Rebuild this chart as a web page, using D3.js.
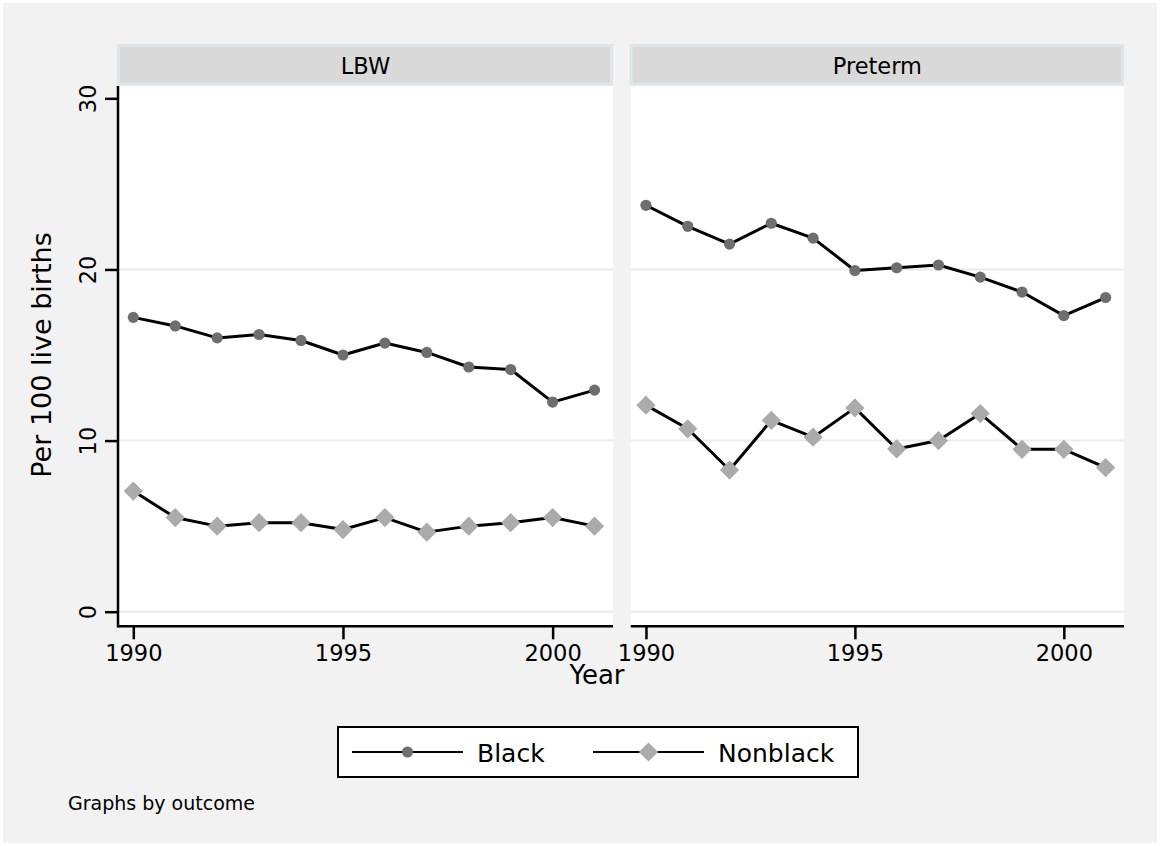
<!DOCTYPE html>
<html>
<head>
<meta charset="utf-8">
<script src="https://cdn.jsdelivr.net/npm/d3@7"></script>
<style>
  body { margin: 0; background: #ffffff; }
  svg { display: block; }
  text { font-family: "DejaVu Sans", sans-serif; fill: #000; }
</style>
</head>
<body>
<svg id="chart" width="1160" height="846"></svg>
<script>
// ---- data ----
const years = [1990, 1991, 1992, 1993, 1994, 1995, 1996, 1997, 1998, 1999, 2000, 2001];
const outcomes = ["LBW", "Preterm"];
const lbwBlack = [17.2, 16.7, 16.0, 16.2, 15.85, 15.0, 15.7, 15.15, 14.3, 14.15, 12.25, 12.95];
const lbwNonblack = [7.05, 5.5, 5.0, 5.2, 5.2, 4.8, 5.5, 4.65, 5.0, 5.2, 5.5, 5.0];
const pretermBlack = [23.75, 22.52, 21.48, 22.7, 21.83, 19.94, 20.1, 20.26, 19.55, 18.68, 17.3, 18.36];
const pretermNonblack = [12.07, 10.69, 8.28, 11.18, 10.2, 11.91, 9.51, 10.0, 11.58, 9.49, 9.49, 8.42];
const seriesNames = ["Black", "Nonblack"];
const yTicks = [0, 10, 20, 30];
const gridTicks = [0, 10, 20];
const xTicks = [1990, 1995, 2000];

const panelData = {
  LBW: { Black: lbwBlack, Nonblack: lbwNonblack },
  Preterm: { Black: pretermBlack, Nonblack: pretermNonblack }
};

// ---- layout ----
const W = 1160, H = 846;
const plotTop = 86, plotBottom = 626.3;
const headerTop = 44, headerBottom = 85.7;
const panelX = [[118, 613], [630.7, 1124]];

const svg = d3.select("#chart");

// outer frame
svg.append("rect").attr("x", 0).attr("y", 0).attr("width", W).attr("height", H).attr("fill", "#ffffff");
svg.append("rect").attr("x", 3).attr("y", 3).attr("width", W - 6).attr("height", H - 6).attr("fill", "#f2f2f2");

const y = d3.scaleLinear().domain([-0.853, 30.72]).range([plotBottom, plotTop]);

const markerStyle = {
  Black: { type: d3.symbolCircle, size: Math.PI * 5.6 * 5.6, fill: "#6e6e6e", rot: 0 },
  Nonblack: { type: d3.symbolSquare, size: 13.6 * 13.6, fill: "#ababab", rot: 45 }
};

outcomes.forEach((name, i) => {
  const [x0, x1] = panelX[i];
  const x = d3.scaleLinear().domain([1989.635, 2001.44]).range([x0, x1]);
  const g = svg.append("g");

  // header strip
  g.append("rect").attr("x", x0 - 1).attr("y", headerTop)
    .attr("width", x1 - x0 + 1).attr("height", headerBottom - headerTop)
    .attr("fill", "#dde6ea");
  g.append("rect").attr("x", x0 + 2).attr("y", headerTop + 3)
    .attr("width", x1 - x0 - 5).attr("height", headerBottom - headerTop - 6)
    .attr("fill", "#d9d9d9");
  g.append("text").attr("x", (x0 + x1) / 2).attr("y", 73.5)
    .attr("text-anchor", "middle").attr("font-size", 22.5).text(name);

  // plot area
  g.append("rect").attr("x", x0).attr("y", plotTop)
    .attr("width", x1 - x0).attr("height", plotBottom - plotTop)
    .attr("fill", "#ffffff");

  // gridlines
  g.selectAll(".grid").data(gridTicks).join("line")
    .attr("x1", x0).attr("x2", x1)
    .attr("y1", d => y(d)).attr("y2", d => y(d))
    .attr("stroke", "#ebebeb").attr("stroke-width", 2);

  // x axis
  const xAxis = g.append("g").attr("transform", `translate(0,${plotBottom})`)
    .call(d3.axisBottom(x).tickValues(xTicks).tickSize(13).tickSizeOuter(0).tickPadding(6).tickFormat(d3.format("d")));
  xAxis.select(".domain").attr("stroke", "#000").attr("stroke-width", 2.5)
    .attr("d", `M${x0},0H${x1}`);
  xAxis.selectAll(".tick line").attr("stroke", "#000").attr("stroke-width", 2.5);
  xAxis.selectAll(".tick text").attr("font-size", 22.5).attr("font-family", "DejaVu Sans").attr("fill", "#000");

  // y axis on the first panel only
  if (i === 0) {
    const yAxis = g.append("g").attr("transform", `translate(${x0},0)`)
      .call(d3.axisLeft(y).tickValues(yTicks).tickSize(13).tickSizeOuter(0).tickPadding(6));
    yAxis.select(".domain").attr("stroke", "#000").attr("stroke-width", 2.5)
      .attr("d", `M0,${plotTop}V${plotBottom + 1.2}`);
    yAxis.selectAll(".tick line").attr("stroke", "#000").attr("stroke-width", 2.5);
    yAxis.selectAll(".tick text")
      .attr("font-size", 22.5).attr("font-family", "DejaVu Sans").attr("fill", "#000")
      .attr("text-anchor", "middle").attr("dy", null)
      .attr("transform", "rotate(-90)")
      .attr("x", 0).attr("y", -22);
  }

  // series lines and markers
  seriesNames.forEach(s => {
    const vals = panelData[name][s];
    const pts = years.map((yr, k) => [x(yr), y(vals[k])]);
    g.append("path").attr("d", d3.line()(pts))
      .attr("fill", "none").attr("stroke", "#000").attr("stroke-width", 3)
      .attr("stroke-linejoin", "round");
    const st = markerStyle[s];
    g.selectAll(null).data(pts).join("path")
      .attr("d", d3.symbol().type(st.type).size(st.size))
      .attr("transform", d => `translate(${d[0]},${d[1]}) rotate(${st.rot})`)
      .attr("fill", st.fill);
  });
});

// axis titles
svg.append("text").attr("transform", `translate(51,${(y(0) + y(30)) / 2}) rotate(-90)`)
  .attr("text-anchor", "middle").attr("font-size", 27).text("Per 100 live births");
svg.append("text").attr("x", 597).attr("y", 684)
  .attr("text-anchor", "middle").attr("font-size", 26).text("Year");

// legend
const lg = svg.append("g");
lg.append("rect").attr("x", 338).attr("y", 727).attr("width", 520).attr("height", 50)
  .attr("fill", "#ffffff").attr("stroke", "#000").attr("stroke-width", 2);
const legendItems = [
  { name: seriesNames[0], lx: 352, rx: 463, tx: 477 },
  { name: seriesNames[1], lx: 593, rx: 704, tx: 718 }
];
legendItems.forEach(it => {
  const ly = 752;
  lg.append("line").attr("x1", it.lx).attr("x2", it.rx).attr("y1", ly).attr("y2", ly)
    .attr("stroke", "#000").attr("stroke-width", 2);
  const st = markerStyle[it.name];
  lg.append("path").attr("d", d3.symbol().type(st.type).size(st.size))
    .attr("transform", `translate(${(it.lx + it.rx) / 2},${ly}) rotate(${st.rot})`)
    .attr("fill", st.fill);
  lg.append("text").attr("x", it.tx).attr("y", ly + 10).attr("font-size", 25).text(it.name);
});

// note
svg.append("text").attr("x", 68).attr("y", 810).attr("font-size", 19).text("Graphs by outcome");
</script>
</body>
</html>
